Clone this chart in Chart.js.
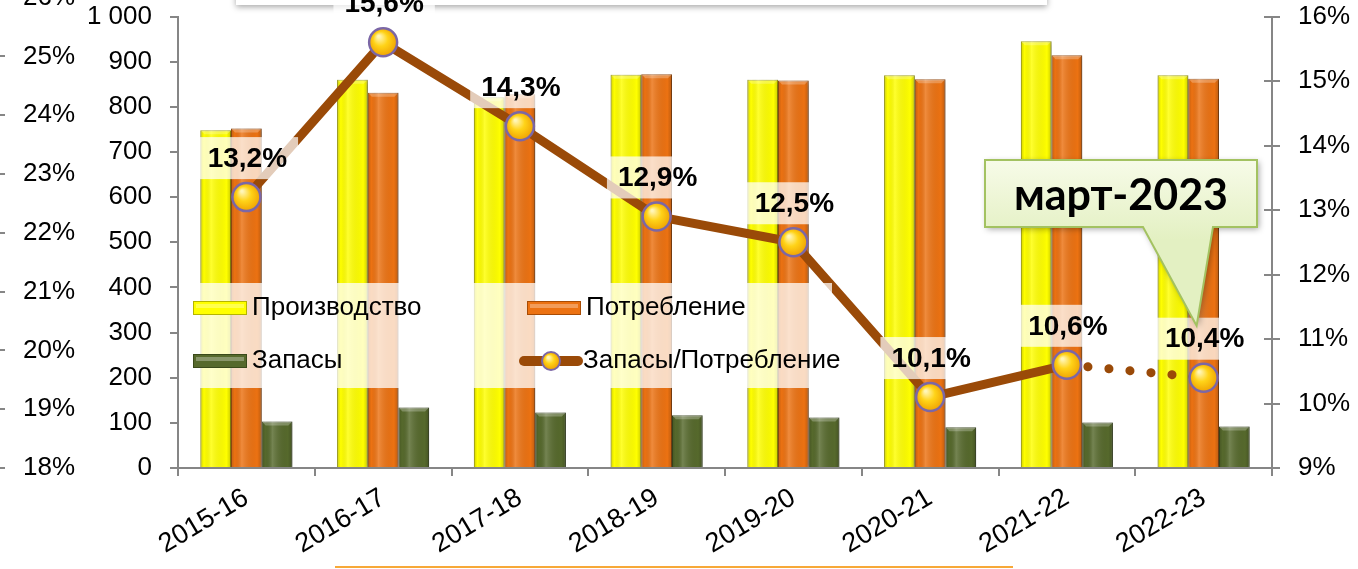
<!DOCTYPE html>
<html>
<head>
<meta charset="utf-8">
<script src="https://cdn.jsdelivr.net/npm/chart.js@4.4.1/dist/chart.umd.min.js"></script>
<style>
html, body { margin: 0; padding: 0; background: #fff; overflow: hidden; }
#wrap { position: relative; width: 1358px; height: 569px; }
#topbox { position: absolute; left: 236px; top: -60px; width: 811px; height: 65px; background: #fff; box-shadow: 0 2px 6px rgba(0,0,0,.35); }
#bottomline { position: absolute; left: 335px; top: 566px; width: 678px; height: 2px; background: #f7a838; }
canvas { position: absolute; left: 0; top: 0; }
</style>
</head>
<body>
<div id="wrap">
  <div id="topbox"></div>
  <canvas id="grainChart" width="1358" height="569"></canvas>
  <div id="bottomline"></div>
</div>
<script>
// Seasons and values
const seasons = ['2015-16', '2016-17', '2017-18', '2018-19', '2019-20', '2020-21', '2021-22', '2022-23'];
const production = [748, 860, 821, 871, 860, 870, 945, 870];
const consumption = [752, 831, 828, 872, 858, 861, 914, 862];
const stocks = [103, 134, 123, 117, 112, 90, 101, 92];
const stocksToUse = [13.2, 15.6, 14.3, 12.9, 12.5, 10.1, 10.6, 10.4];

// Tick labels
const outerTicks = [18, 19, 20, 21, 22, 23, 24, 25, 26];
const volumeTicks = [0, 100, 200, 300, 400, 500, 600, 700, 800, 900, 1000];
const ratioTicks = [9, 10, 11, 12, 13, 14, 15, 16];

const seriesNames = ['Производство', 'Потребление', 'Запасы', 'Запасы/Потребление'];
const calloutText = 'март-2023';

const FONT = '"Liberation Sans", Arial, sans-serif';
const AXIS = '#868686';

function pct(v) {
    return v.toFixed(1).replace('.', ',') + '%';
}

function ballFill(ctx, x, y, r) {
    const g = ctx.createRadialGradient(x - r * 0.3, y - r * 0.4, 1, x, y, r);
    g.addColorStop(0, '#FFF6B8');
    g.addColorStop(0.45, '#FFD318');
    g.addColorStop(1, '#EE9E00');
    return g;
}

// vertical axes must not push the plot area down
function fixVertical(width) {
    return s => {
        s.width = width;
        s.paddingTop = 0;
        s.paddingBottom = 0;
    };
}

const decor = {
    id: 'decor',
    beforeDatasetDraw(chart, args) {
        if (args.meta.type === 'bar') {
            const ctx = chart.ctx;
            ctx.save();
            ctx.shadowColor = 'rgba(0,0,0,0.3)';
            ctx.shadowBlur = 5;
            ctx.shadowOffsetX = 2;
            ctx.shadowOffsetY = 1;
        }
    },
    afterDatasetDraw(chart, args) {
        if (args.meta.type !== 'bar') return;
        const ctx = chart.ctx;
        ctx.restore();
        // bevel shading on each bar
        args.meta.data.forEach(b => {
            const l = b.x - b.width / 2, w = b.width, t = b.y, h = b.base - b.y;
            const g = ctx.createLinearGradient(l, 0, l + w, 0);
            g.addColorStop(0, 'rgba(0,0,0,0.18)');
            g.addColorStop(0.12, 'rgba(0,0,0,0)');
            g.addColorStop(0.35, 'rgba(255,255,255,0.18)');
            g.addColorStop(0.85, 'rgba(0,0,0,0)');
            g.addColorStop(1, 'rgba(0,0,0,0.2)');
            ctx.fillStyle = g;
            ctx.fillRect(l, t, w, h);
            ctx.fillStyle = 'rgba(255,255,255,0.25)';
            ctx.beginPath();
            ctx.moveTo(l, t); ctx.lineTo(l + w, t); ctx.lineTo(l + w - 4, t + 4); ctx.lineTo(l + 4, t + 4);
            ctx.closePath();
            ctx.fill();
        });
    },
    afterDatasetsDraw(chart) {
        const ctx = chart.ctx;
        const ds = chart.data.datasets;

        // legend (inside the plot, semi transparent)
        ctx.save();
        ctx.fillStyle = 'rgba(255,255,255,0.75)';
        ctx.fillRect(190, 283, 642, 105);
        const spots = [[193, 308], [527, 308], [193, 361], [520, 361]];
        ctx.font = '26px ' + FONT;
        ctx.textBaseline = 'middle';
        ctx.textAlign = 'left';
        spots.forEach(([x, y], i) => {
            const d = ds[i];
            let tx;
            if (d.type === 'bar') {
                ctx.fillStyle = d.backgroundColor;
                ctx.fillRect(x, y - 7, 54, 14);
                ctx.fillStyle = 'rgba(255,255,255,0.3)';
                ctx.fillRect(x + 3, y - 4, 48, 4);
                ctx.strokeStyle = d.borderColor;
                ctx.lineWidth = 1;
                ctx.strokeRect(x + 0.5, y - 6.5, 53, 13);
                tx = x + 59;
            } else {
                ctx.strokeStyle = d.borderColor;
                ctx.lineWidth = 10;
                ctx.lineCap = 'round';
                ctx.beginPath();
                ctx.moveTo(x + 4, y); ctx.lineTo(x + 58, y);
                ctx.stroke();
                ctx.beginPath();
                ctx.arc(x + 31, y, 9, 0, Math.PI * 2);
                ctx.fillStyle = ballFill(ctx, x + 31, y, 9);
                ctx.fill();
                ctx.lineWidth = 2;
                ctx.strokeStyle = d.pointBorderColor;
                ctx.stroke();
                tx = x + 63;
            }
            ctx.fillStyle = '#000';
            ctx.fillText(d.label, tx, y);
        });
        ctx.restore();

        // data labels of the ratio line
        const lineMeta = chart.getDatasetMeta(3);
        ctx.save();
        ctx.font = 'bold 28px ' + FONT;
        ctx.textAlign = 'center';
        ctx.textBaseline = 'middle';
        lineMeta.data.forEach((p, i) => {
            const txt = pct(stocksToUse[i]);
            const w = ctx.measureText(txt).width + 22;
            const cx = p.x + 1, cy = p.y - 39;
            ctx.fillStyle = 'rgba(255,255,255,0.72)';
            ctx.fillRect(cx - w / 2, cy - 21, w, 42);
            ctx.fillStyle = '#000';
            ctx.fillText(txt, cx, cy + 1);
        });
        ctx.restore();

        // callout
        const last = lineMeta.data[lineMeta.data.length - 1];
        const tipX = last.x - 7, tipY = last.y - 52;
        ctx.save();
        ctx.beginPath();
        ctx.moveTo(985, 160); ctx.lineTo(1257, 160); ctx.lineTo(1257, 227);
        ctx.lineTo(1213, 227); ctx.lineTo(tipX, tipY); ctx.lineTo(1143, 227);
        ctx.lineTo(985, 227); ctx.closePath();
        const g = ctx.createLinearGradient(0, 160, 0, 240);
        g.addColorStop(0, '#F7FBE8');
        g.addColorStop(1, '#E3F0C2');
        ctx.shadowColor = 'rgba(0,0,0,0.35)';
        ctx.shadowBlur = 6;
        ctx.shadowOffsetX = 2;
        ctx.shadowOffsetY = 2;
        ctx.fillStyle = g;
        ctx.fill();
        ctx.shadowColor = 'transparent';
        ctx.strokeStyle = '#A3C261';
        ctx.lineWidth = 2;
        ctx.stroke();
        ctx.fillStyle = '#000';
        ctx.font = 'bold 43px Lato, "Open Sans", sans-serif';
        ctx.textAlign = 'center';
        ctx.textBaseline = 'middle';
        ctx.fillText(calloutText, 1121, 196);
        ctx.restore();
    },
    afterDraw(chart) {
        const ctx = chart.ctx;
        ctx.save();
        ctx.strokeStyle = AXIS;
        ctx.lineWidth = 2;
        const outer = chart.scales.outer;
        outer.ticks.forEach(t => {
            const y = Math.round(outer.getPixelForValue(t.value));
            ctx.beginPath(); ctx.moveTo(0, y); ctx.lineTo(5, y); ctx.stroke();
        });
        const r = chart.scales.y2;
        r.ticks.forEach(t => {
            const y = Math.round(r.getPixelForValue(t.value));
            ctx.beginPath(); ctx.moveTo(r.left - 8, y); ctx.lineTo(r.left, y); ctx.stroke();
        });
        ctx.restore();
    }
};

const axisFont = { family: FONT, size: 26 };

new Chart(document.getElementById('grainChart'), {
    data: {
        labels: seasons,
        datasets: [
            {
                type: 'bar', label: seriesNames[0], data: production, yAxisID: 'y', order: 2,
                backgroundColor: '#FFFF00', borderColor: '#B5B500', borderWidth: 1,
                categoryPercentage: 0.673, barPercentage: 1
            },
            {
                type: 'bar', label: seriesNames[1], data: consumption, yAxisID: 'y', order: 2,
                backgroundColor: '#EC7212', borderColor: '#A84C05', borderWidth: 1,
                categoryPercentage: 0.673, barPercentage: 1
            },
            {
                type: 'bar', label: seriesNames[2], data: stocks, yAxisID: 'y', order: 2,
                backgroundColor: '#56692C', borderColor: '#3A4A1A', borderWidth: 1,
                categoryPercentage: 0.673, barPercentage: 1
            },
            {
                type: 'line', label: seriesNames[3], data: stocksToUse, yAxisID: 'y2', order: 0,
                borderColor: '#9A4A08', borderWidth: 9, borderCapStyle: 'round', borderJoinStyle: 'round',
                tension: 0, clip: false,
                pointRadius: 14, pointBorderWidth: 2.5, pointBorderColor: '#7B67A6',
                pointBackgroundColor: c => {
                    const ch = c.chart;
                    if (c.type !== 'data' || !ch.chartArea) return '#FFC800';
                    const x = ch.scales.x.getPixelForValue(c.dataIndex);
                    const y = ch.scales.y2.getPixelForValue(c.raw);
                    return ballFill(ch.ctx, x, y, 15);
                },
                segment: {
                    borderDash: c => c.p1DataIndex === stocksToUse.length - 1 ? [0.1, 21] : undefined
                }
            }
        ]
    },
    options: {
        responsive: false,
        animation: false,
        layout: { padding: { top: 14, left: 0, right: 0, bottom: 0 } },
        plugins: { legend: { display: false }, tooltip: { enabled: false } },
        scales: {
            x: {
                grid: { drawOnChartArea: false, offset: true, tickLength: 8, color: AXIS, lineWidth: 2 },
                border: { color: AXIS, width: 2 },
                ticks: { font: { family: FONT, size: 27 }, color: '#000', minRotation: 31, maxRotation: 31, autoSkip: false, padding: 6 },
                afterFit: s => { s.height = 101; s.paddingLeft = 0; s.paddingRight = 0; }
            },
            outer: {
                position: 'left', weight: 2, min: 18, max: 25.68,
                grid: { display: false, drawTicks: false },
                border: { display: false },
                ticks: { font: axisFont, color: '#000', padding: 5, autoSkip: false, callback: v => v + '%' },
                afterBuildTicks: s => { s.ticks = outerTicks.map(v => ({ value: v })); },
                afterFit: fixVertical(80)
            },
            y: {
                position: 'left', weight: 1, min: 0, max: 1000,
                grid: { drawOnChartArea: false, tickLength: 8, color: AXIS, lineWidth: 2 },
                border: { color: AXIS, width: 2 },
                ticks: {
                    font: axisFont, color: '#000', padding: 18, autoSkip: false,
                    callback: v => String(v).replace(/\B(?=(\d{3})+(?!\d))/g, ' ')
                },
                afterBuildTicks: s => { s.ticks = volumeTicks.map(v => ({ value: v })); },
                afterFit: fixVertical(98)
            },
            y2: {
                position: 'right', min: 9, max: 16,
                grid: { drawOnChartArea: false, tickLength: 8, color: AXIS, lineWidth: 2 },
                border: { color: AXIS, width: 2 },
                ticks: { font: axisFont, color: '#000', padding: 18, autoSkip: false, callback: v => v + '%' },
                afterBuildTicks: s => { s.ticks = ratioTicks.map(v => ({ value: v })); },
                afterFit: fixVertical(86)
            }
        }
    },
    plugins: [decor]
});
</script>
</body>
</html>
